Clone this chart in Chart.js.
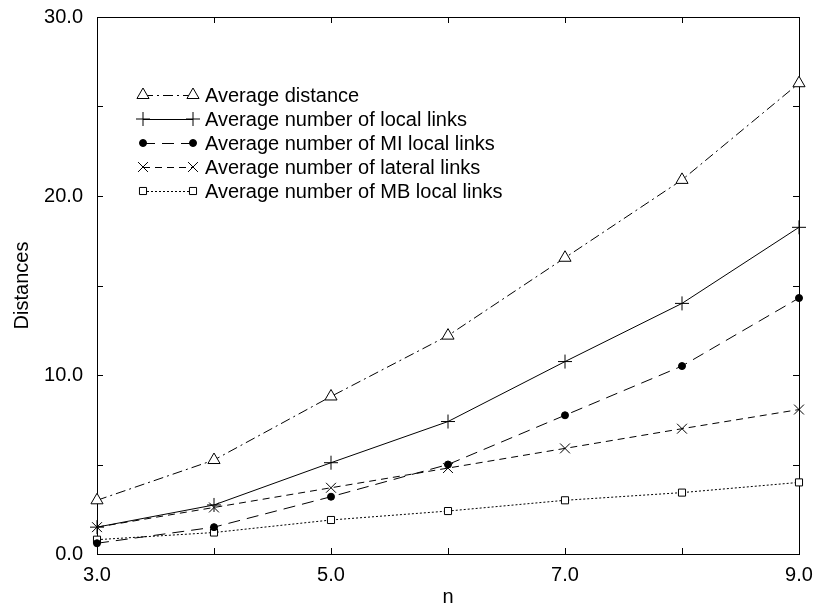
<!DOCTYPE html>
<html>
<head>
<meta charset="utf-8">
<script src="https://cdn.jsdelivr.net/npm/chart.js@4/dist/chart.umd.min.js"></script>
<style>
  body { margin: 0; background: #fff; }
  canvas { display: block; }
</style>
</head>
<body>
<canvas id="grafica" width="815" height="609"></canvas>
<script>
// values
var nValues = [3, 4, 5, 6, 7, 8, 9];
var avgDistance = [3.0, 5.25, 8.8, 12.2, 16.55, 20.9, 26.3];
var avgLocal = [1.5, 2.74, 5.1, 7.4, 10.75, 14.0, 18.25];
var avgMiLocal = [0.6, 1.5, 3.2, 5.0, 7.75, 10.5, 14.3];
var avgLateral = [1.5, 2.6, 3.7, 4.8, 5.9, 7.0, 8.07];
var avgMbLocal = [0.8, 1.2, 1.9, 2.4, 3.0, 3.43, 4.0];

var seriesNames = [
  "Average distance",
  "Average number of local links",
  "Average number of MI local links",
  "Average number of lateral links",
  "Average number of MB local links"
];
var xTickLabels = [3, 5, 7, 9];
var yTickLabels = [0, 10, 20, 30];

function puntos(vals) {
  return vals.map(function (v, i) { return { x: nValues[i], y: vals[i] }; });
}

Chart.defaults.font.family = "'Liberation Sans', Arial, sans-serif";
Chart.defaults.font.size = 20;
Chart.defaults.color = "#000";

// frame with inward ticks on all four sides
var marco = {
  id: "marco",
  beforeDatasetsDraw: function (chart) {
    var ctx = chart.ctx, a = chart.chartArea;
    var xs = chart.scales.x, ys = chart.scales.y;
    ctx.save();
    ctx.strokeStyle = "#000";
    ctx.lineWidth = 1;
    ctx.setLineDash([]);
    ctx.strokeRect(a.left + 0.5, a.top + 0.5, a.right - a.left, a.bottom - a.top);
    ctx.beginPath();
    for (var v = 3; v <= 9; v++) {
      var px = Math.round(xs.getPixelForValue(v)) + 0.5;
      ctx.moveTo(px, a.bottom); ctx.lineTo(px, a.bottom - 6);
      ctx.moveTo(px, a.top); ctx.lineTo(px, a.top + 6);
    }
    for (var w = 0; w <= 30; w += 5) {
      var py = Math.round(ys.getPixelForValue(w)) + 0.5;
      ctx.moveTo(a.left, py); ctx.lineTo(a.left + 6, py);
      ctx.moveTo(a.right, py); ctx.lineTo(a.right - 6, py);
    }
    ctx.stroke();
    ctx.restore();
  }
};

// gnuplot style key: line sample with a marker at each end
var leyenda = {
  id: "leyenda",
  afterDraw: function (chart) {
    var ctx = chart.ctx;
    chart.data.datasets.forEach(function (ds, i) {
      var y = 95 + i * 24;
      var x1 = 143, x2 = 193;
      ctx.save();
      ctx.strokeStyle = "#000";
      ctx.lineWidth = 1;
      ctx.setLineDash(ds.borderDash || []);
      ctx.beginPath();
      ctx.moveTo(x1, y + 0.5);
      ctx.lineTo(x2, y + 0.5);
      ctx.stroke();
      ctx.setLineDash([]);
      ctx.fillStyle = ds.pointBackgroundColor;
      var opts = { pointStyle: ds.pointStyle, radius: ds.pointRadius, rotation: 0, borderWidth: 1 };
      Chart.helpers.drawPoint(ctx, opts, x1, y);
      Chart.helpers.drawPoint(ctx, opts, x2, y);
      ctx.fillStyle = "#000";
      ctx.font = "20px 'Liberation Sans', Arial, sans-serif";
      ctx.textBaseline = "middle";
      ctx.textAlign = "left";
      ctx.fillText(ds.label, 205, y + 1);
      ctx.restore();
    });
  }
};

function serie(nombre, vals, dash, estilo, radio, relleno) {
  return {
    label: nombre,
    data: puntos(vals),
    borderColor: "#000",
    borderWidth: 1,
    borderDash: dash,
    pointStyle: estilo,
    pointRadius: radio,
    pointBorderColor: "#000",
    pointBackgroundColor: relleno,
    pointBorderWidth: 1,
    tension: 0,
    clip: false
  };
}

var ctx = document.getElementById("grafica").getContext("2d");
var grafica = new Chart(ctx, {
  type: "line",
  data: {
    datasets: [
      serie(seriesNames[0], avgDistance, [10, 4, 2, 4], "triangle", 7, "#fff"),
      serie(seriesNames[1], avgLocal, [], "cross", 7, "#fff"),
      serie(seriesNames[2], avgMiLocal, [12, 7], "circle", 3.5, "#000"),
      serie(seriesNames[3], avgLateral, [7, 5], "crossRot", 7, "#fff"),
      serie(seriesNames[4], avgMbLocal, [2, 2], "rect", 5, "#fff")
    ]
  },
  options: {
    responsive: false,
    animation: false,
    layout: { padding: { top: 17, right: 16, left: 0, bottom: 0 } },
    plugins: { legend: { display: false }, tooltip: { enabled: false } },
    scales: {
      x: {
        type: "linear",
        min: 3,
        max: 9,
        grid: { display: false, drawTicks: false },
        border: { display: false },
        ticks: {
          stepSize: 1,
          padding: 9,
          maxRotation: 0,
          autoSkip: false,
          callback: function (v) { return xTickLabels.indexOf(v) >= 0 ? v.toFixed(1) : ""; }
        },
        title: { display: true, text: "n", padding: { top: 0, bottom: 0 } },
        afterFit: function (s) { s.height = 55; s.paddingLeft = 0; s.paddingRight = 0; }
      },
      y: {
        min: 0,
        max: 30,
        grid: { display: false, drawTicks: false },
        border: { display: false },
        ticks: {
          stepSize: 5,
          padding: 14,
          autoSkip: false,
          callback: function (v) { return yTickLabels.indexOf(v) >= 0 ? v.toFixed(1) : ""; }
        },
        title: { display: true, text: "Distances", padding: { top: 10, bottom: 0 } },
        afterFit: function (s) { s.width = 97; s.paddingTop = 0; s.paddingBottom = 0; }
      }
    }
  },
  plugins: [marco, leyenda]
});
</script>
</body>
</html>
